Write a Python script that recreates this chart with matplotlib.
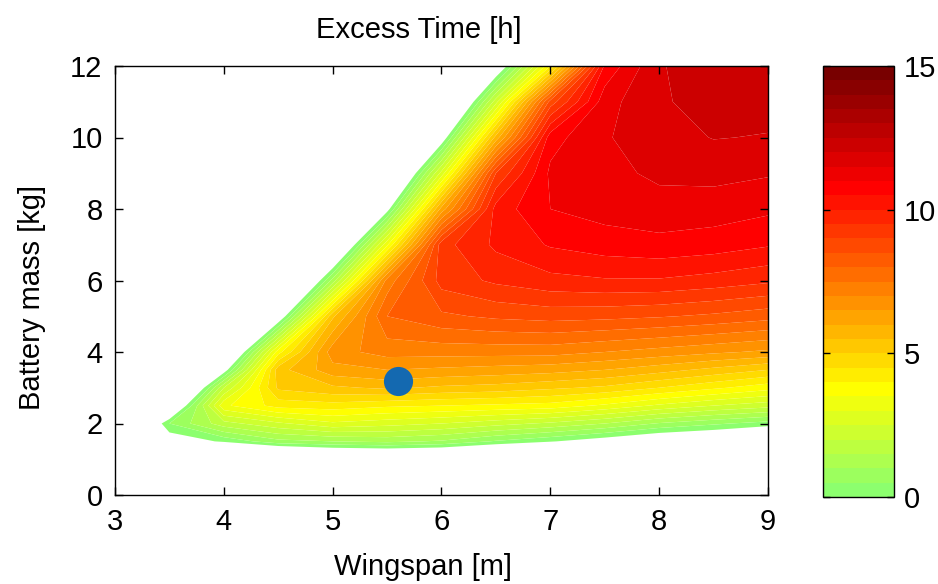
import numpy as np
import matplotlib
matplotlib.use("Agg")
import matplotlib.pyplot as plt
from matplotlib.colors import ListedColormap

plt.rcParams['font.family'] = ['Liberation Sans', 'DejaVu Sans']

# ---- data ----
wingspan_m = [3.0, 3.5, 4.0, 4.5, 5.0, 5.5, 6.0, 6.5, 7.0, 7.5, 8.0, 8.5, 9.0]
battery_mass_kg = [1.0, 1.5, 2.0, 2.5, 3.0, 3.5, 4.0, 5.0, 6.0, 7.0, 8.0, 9.0, 10.0, 11.0, 12.0]
# excess time [h]; one row per battery mass, one column per wingspan (negative = infeasible)
excess_time_h = [
    [-6, -4.5, -3.2, -2.4, -1.8, -1.7, -1.8, -2.3, -2.8, -3.4, -4.0, -4.6, -5.2],
    [-4, -0.5, 0.1, 0.84, 1.0, 1.13, 0.93, 0.44, 0.05, -0.4, -0.85, -1.07, -1.6],
    [-3, 0.5, 1.8, 2.4, 2.9, 2.7, 2.5, 2.2, 1.9, 1.5, 0.95, 0.6, 0.28],
    [-4.5, -1.5, 3.4, 4.2, 4.3, 4.1, 4.0, 3.9, 3.8, 3.4, 2.9, 2.5, 2.2],
    [-6, -3.5, 2.0, 5.1, 5.4, 5.6, 5.4, 5.3, 5.1, 4.9, 4.5, 4.1, 3.7],
    [-7.5, -5, -0.4, 5.3, 6.3, 6.5, 6.4, 6.3, 6.2, 6.0, 5.7, 5.35, 5.0],
    [-9, -6.5, -2.3, 3.8, 6.8, 7.2, 7.2, 7.2, 7.2, 7.0, 6.8, 6.6, 6.4],
    [-10, -8.5, -4, -0.8, 5.4, 8.0, 8.4, 8.6, 8.7, 8.65, 8.55, 8.4, 8.2],
    [-11, -10, -7, -4, 1.2, 7.2, 9.2, 9.6, 9.85, 9.95, 9.95, 9.8, 9.6],
    [-12, -11, -9, -6.5, -2.3, 3.4, 9.3, 10.1, 10.55, 10.75, 10.85, 10.75, 10.55],
    [-13, -12, -10.5, -8.5, -5, -0.3, 6.2, 10.2, 11.0, 11.2, 11.3, 11.25, 11.1],
    [-14, -13, -11.5, -10, -7.5, -3, 2.7, 9.0, 11.1, 11.35, 11.6, 11.65, 11.55],
    [-15, -14, -12.5, -11, -9, -6, -0.6, 5.7, 10.8, 11.45, 11.8, 12.02, 11.97],
    [-16, -15, -13.5, -12, -10, -7.5, -3.3, 2.3, 8.7, 11.3, 11.95, 12.15, 12.2],
    [-17, -16, -14.5, -13, -11, -8.5, -5, -1.0, 4.0, 10.6, 11.97, 12.2, 12.3],
]
design_wingspan = 5.6
design_battery = 3.2
colorbar_ticks = [0, 5, 10, 15]
x_ticks = [3, 4, 5, 6, 7, 8, 9]
y_ticks = [0, 2, 4, 6, 8, 10, 12]

# ---- colormap: green -> yellow -> red -> dark red, 30 discrete bands ----
anchors_idx = [0, 7, 21, 29]
anchors_rgb = np.array([[140, 255, 110], [255, 255, 0], [255, 0, 0], [120, 0, 0]]) / 255.0
band_idx = np.arange(30)
cols = np.stack([np.interp(band_idx, anchors_idx, anchors_rgb[:, c]) for c in range(3)], axis=1)
cmap = ListedColormap(cols)
levels = np.arange(0, 15.01, 0.5)

fig = plt.figure(figsize=(9.38, 5.84), dpi=100)
W, H = 938, 584
ax = fig.add_axes([115 / W, (H - 495) / H, 653 / W, 429 / H])
cax = fig.add_axes([823 / W, (H - 497) / H, 71 / W, 431 / H])

X, Y = np.meshgrid(wingspan_m, battery_mass_kg)
Z = np.array(excess_time_h, dtype=float)
cs = ax.contourf(X, Y, Z, levels=levels, cmap=cmap, vmin=0, vmax=15, antialiased=True)
ax.plot(design_wingspan, design_battery, 'o', ms=21, color='#1469B0', mec='none')

ax.set_xlim(3, 9)
ax.set_ylim(0, 12)
ax.set_xticks(x_ticks)
ax.set_yticks(y_ticks)
ax.tick_params(direction='in', top=True, right=True, length=6, width=1,
               labelsize=21, pad=9)
for s in ax.spines.values():
    s.set_linewidth(1.0)
ax.set_xlabel('Wingspan [m]', fontsize=21)
ax.xaxis.set_label_coords((422.5 - 115) / 653, -(553 - 495) / 429)
ax.set_ylabel('Battery mass [kg]', fontsize=21)
ax.yaxis.set_label_coords(-(115 - 46) / 653, (495 - 297) / 429)
ax.set_title('Excess Time [h]', fontsize=21, pad=20, x=(418.5 - 115) / 653)

cb = fig.colorbar(cs, cax=cax, ticks=colorbar_ticks)
cb.outline.set_linewidth(1.0)
cax.tick_params(direction='in', left=True, right=True, length=5, width=1,
                labelsize=21, pad=7)
cax.set_yticklabels([str(t) for t in colorbar_ticks])

fig.savefig('out.png', dpi=100)
